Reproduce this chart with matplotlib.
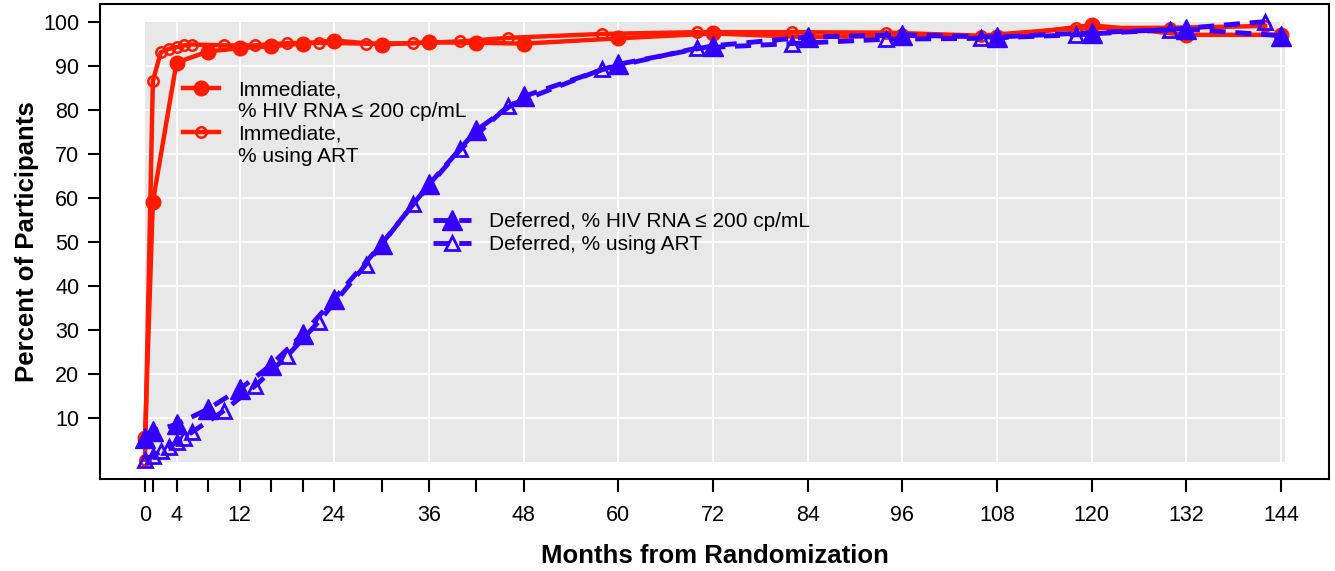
import matplotlib.pyplot as plt
from matplotlib.lines import Line2D
from matplotlib.patches import Rectangle

plt.rcParams['font.family'] = ['Liberation Sans', 'DejaVu Sans']

# ---- data ----
# immediate arm
imm_rna_month = [0, 1, 4, 8, 12, 16, 20, 24, 30, 36, 42, 48, 60, 72, 84, 96, 108, 120, 132, 144]
imm_rna_pct = [5.5, 59, 90.7, 93.2, 94.0, 94.4, 95.0, 95.7, 94.8, 95.3, 95.2, 95.0,
               96.2, 97.3, 96.5, 96.8, 96.5, 99.2, 97.0, 97.0]
imm_art_month = [0, 1, 2, 3, 4, 5, 6, 10, 14, 18, 22, 28, 34, 40, 46, 58, 70, 82, 94, 106, 118, 130, 142]
imm_art_pct = [0.5, 86.5, 93.0, 93.8, 94.2, 94.6, 94.8, 94.6, 94.6, 95.1, 95.2, 95.0, 95.1,
               95.5, 96.3, 97.2, 97.6, 97.6, 97.5, 96.8, 98.5, 98.6, 99.0]
# deferred arm
def_rna_month = [0, 1, 4, 8, 12, 16, 20, 24, 30, 36, 42, 48, 60, 72, 84, 96, 108, 120, 132, 144]
def_rna_pct = [5.5, 7.0, 8.5, 12.0, 16.5, 22.0, 29.0, 37.0, 49.5, 63.0, 75.3, 83.0,
               90.3, 94.5, 96.5, 97.0, 96.5, 97.5, 98.3, 96.8]
def_art_month = [0, 1, 2, 3, 4, 5, 6, 10, 14, 18, 22, 28, 34, 40, 46, 58, 70, 82, 94, 106, 118, 130, 142]
def_art_pct = [0.5, 1.3, 2.4, 3.4, 4.4, 5.5, 6.8, 11.6, 17.3, 24.0, 31.8, 44.8, 58.5,
               71.0, 80.8, 89.2, 94.0, 95.0, 96.0, 96.2, 97.0, 98.2, 100.0]

x_ticks = [0, 1, 4, 8, 12, 16, 20, 24, 30, 36, 42, 48, 60, 72, 84, 96, 108, 120, 132, 144]
x_labeled = [0, 4, 12, 24, 36, 48, 60, 72, 84, 96, 108, 120, 132, 144]
y_ticks = [10, 20, 30, 40, 50, 60, 70, 80, 90, 100]

red = '#FF1A00'
blue = '#3300FF'
dash = (0, (3.3, 2.0))

fig = plt.figure(figsize=(13.35, 5.71), dpi=100)
ax = fig.add_axes([100/1335, 92/571, 1229/1335, 475/571])

# gray panel with white grid
x_end = max(imm_rna_month) + 0.5
ax.add_patch(Rectangle((0, 0), x_end, 100, facecolor='#E8E8E8', edgecolor='none', zorder=0))
ax.vlines([t for t in x_labeled if t > 0], 0, 100, color='white', lw=1.3, zorder=1)
ax.hlines(y_ticks[:-1], 0, x_end, color='white', lw=1.3, zorder=1)

ax.plot(imm_rna_month, imm_rna_pct, color=red, lw=3.2, marker='o', ms=10.5,
        zorder=3)
ax.plot(imm_art_month, imm_art_pct, color=red, lw=3.2, marker='o', ms=7.5,
        mfc='none', mew=1.8, zorder=3)
ax.plot(def_rna_month, def_rna_pct, color=blue, lw=3.5, ls=dash, marker='^',
        ms=14, zorder=4)
ax.plot(def_art_month, def_art_pct, color=blue, lw=3.5, ls=dash, marker='^',
        ms=10, mfc='none', mew=2, zorder=4)

ax.set_xlim(-5.7, 150.1)
ax.set_ylim(-3.9, 104)
ax.set_xticks(x_ticks)
ax.set_xticklabels([str(t) if t in x_labeled else '' for t in x_ticks])
ax.set_yticks(y_ticks)
ax.tick_params(length=9, width=1.5, labelsize=15.5, direction='out')
ax.tick_params(axis='x', pad=10)
ax.tick_params(axis='y', pad=6)
for s in ax.spines.values():
    s.set_linewidth(1.5)

ax.set_xlabel('Months from Randomization', fontsize=18.5, fontweight='bold', labelpad=13)
ax.set_ylabel('Percent of Participants', fontsize=18.5, fontweight='bold', labelpad=3)

# legends (second line of a label gets an empty handle)
blank = Line2D([], [], ls='none')
h1 = Line2D([], [], color=red, lw=3.2, marker='o', ms=10.5)
h2 = Line2D([], [], color=red, lw=3.2, marker='o', ms=7.5, mfc='none', mew=1.8)
leg1 = ax.legend([h1, blank, h2, blank],
                 ['Immediate,', '% HIV RNA \u2264 200 cp/mL', 'Immediate,', '% using ART'],
                 loc='upper left', bbox_to_anchor=(0.0675, 0.840), frameon=False,
                 fontsize=15, borderpad=0, borderaxespad=0, handlelength=1.75,
                 handletextpad=0.9, labelspacing=0.16, numpoints=1)
ax.add_artist(leg1)

h3 = Line2D([], [], color=blue, lw=3.5, ls=dash, marker='^', ms=14)
h4 = Line2D([], [], color=blue, lw=3.5, ls=dash, marker='^', ms=10, mfc='none', mew=2)
ax.legend([h3, h4], ['Deferred, % HIV RNA \u2264 200 cp/mL', 'Deferred, % using ART'],
          loc='upper left', bbox_to_anchor=(0.271, 0.562), frameon=False,
          fontsize=15, borderpad=0, borderaxespad=0, handlelength=1.8,
          handletextpad=0.9, labelspacing=0.18, numpoints=1)

fig.savefig('out.png', dpi=100)
